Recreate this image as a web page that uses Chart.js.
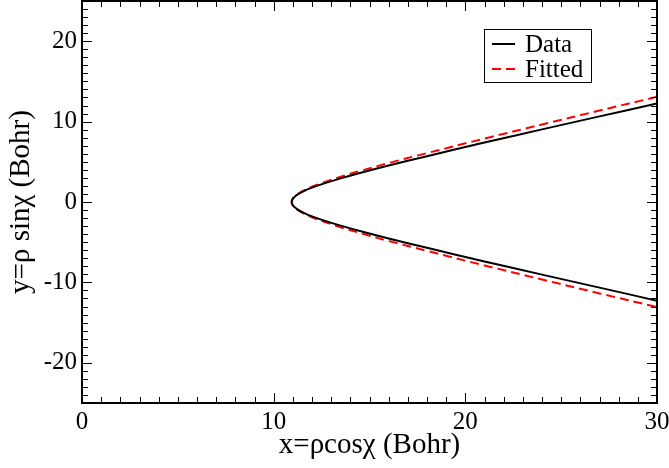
<!DOCTYPE html>
<html>
<head>
<meta charset="utf-8">
<script src="https://cdn.jsdelivr.net/npm/chart.js@4.4.1/dist/chart.umd.min.js"></script>
<style>
  html, body { margin: 0; padding: 0; background: #fff; }
  #wrap { width: 669px; height: 468px; }
</style>
</head>
<body>
<div id="wrap"><canvas id="curveChart" width="669" height="468"></canvas></div>
<script>
// Points along the curve, upper branch from x=30 down to the vertex, then the lower branch back out
const xPoints = [30, 27, 24, 21, 18, 16, 14.5, 13.5, 12.6, 12.0, 11.6, 11.3, 11.1, 11.0, 10.96, 10.94,
  10.96, 11.0, 11.1, 11.3, 11.6, 12.0, 12.6, 13.5, 14.5, 16, 18, 21, 24, 27, 30];
const dataY = [12.25, 10.65, 9.03, 7.39, 5.70, 4.54, 3.61, 2.94, 2.28, 1.78, 1.38, 1.00, 0.66, 0.40, 0.23, 0,
  -0.23, -0.40, -0.66, -1.00, -1.38, -1.78, -2.28, -2.94, -3.61, -4.54, -5.70, -7.39, -9.03, -10.65, -12.27];
const fittedY = [13.08, 11.37, 9.64, 7.89, 6.08, 4.85, 3.85, 3.14, 2.43, 1.90, 1.47, 1.07, 0.70, 0.43, 0.25, 0,
  -0.25, -0.43, -0.70, -1.07, -1.47, -1.90, -2.43, -3.14, -3.85, -4.85, -6.08, -7.89, -9.64, -11.37, -13.07];

const xTickLabels = [0, 10, 20, 30];
const yTickLabels = [-20, -10, 0, 10, 20];

const serif = "'Liberation Serif', 'DejaVu Serif', serif";

function toPoints(xs, ys) {
  return xs.map((x, i) => ({ x: x, y: ys[i] }));
}

// Frame, inward ticks on all four sides, and the boxed legend
const framePlugin = {
  id: "frame",
  afterDatasetsDraw(chart) {
    const ctx = chart.ctx;
    const a = chart.chartArea;
    const xs = chart.scales.x;
    const ys = chart.scales.y;
    ctx.save();
    ctx.strokeStyle = "#000";
    ctx.lineWidth = 1;
    for (let v = xs.min; v <= xs.max; v++) {
      const px = Math.round(xs.getPixelForValue(v)) + 0.5;
      const len = v % 10 === 0 ? 10 : 6;
      ctx.beginPath();
      ctx.moveTo(px, a.bottom); ctx.lineTo(px, a.bottom - len);
      ctx.moveTo(px, a.top); ctx.lineTo(px, a.top + len);
      ctx.stroke();
    }
    for (let v = ys.min; v <= ys.max; v++) {
      const py = Math.round(ys.getPixelForValue(v)) + 0.5;
      const len = v % 10 === 0 ? 10 : 6;
      ctx.beginPath();
      ctx.moveTo(a.left, py); ctx.lineTo(a.left + len, py);
      ctx.moveTo(a.right, py); ctx.lineTo(a.right - len, py);
      ctx.stroke();
    }
    ctx.lineWidth = 2;
    ctx.strokeRect(a.left, a.top, a.right - a.left, a.bottom - a.top);

    // legend
    const bx = 484, by = 29, bw = 107, bh = 53;
    ctx.fillStyle = "#fff";
    ctx.fillRect(bx, by, bw, bh);
    ctx.lineWidth = 1;
    ctx.strokeStyle = "#000";
    ctx.strokeRect(bx + 0.5, by + 0.5, bw, bh);
    ctx.font = "25px " + serif;
    ctx.textBaseline = "middle";
    chart.data.datasets.forEach((ds, i) => {
      const ly = by + 15 + i * 25;
      ctx.strokeStyle = ds.borderColor;
      ctx.lineWidth = 2;
      ctx.setLineDash(ds.borderDash || []);
      ctx.beginPath();
      ctx.moveTo(bx + 8, ly); ctx.lineTo(bx + 31, ly);
      ctx.stroke();
      ctx.setLineDash([]);
      ctx.fillStyle = "#000";
      ctx.fillText(ds.label, bx + 41, ly + 1);
    });
    ctx.restore();
  }
};

new Chart(document.getElementById("curveChart").getContext("2d"), {
  type: "scatter",
  data: {
    datasets: [
      {
        label: "Data",
        data: toPoints(xPoints, dataY),
        showLine: true,
        borderColor: "#000000",
        borderWidth: 2,
        pointRadius: 0,
        tension: 0.4,
      },
      {
        label: "Fitted",
        data: toPoints(xPoints, fittedY),
        showLine: true,
        borderColor: "#ff0000",
        borderWidth: 2,
        borderDash: [9, 5],
        pointRadius: 0,
        tension: 0.4,
      },
    ],
  },
  options: {
    responsive: false,
    animation: false,
    layout: { padding: { top: 1, right: 12, left: 0, bottom: 0 } },
    plugins: {
      legend: { display: false },
      tooltip: { enabled: false },
    },
    scales: {
      x: {
        type: "linear",
        min: 0,
        max: 30,
        afterBuildTicks: (s) => { s.ticks = xTickLabels.map((v) => ({ value: v })); },
        afterFit: (s) => { s.height = 65; s.paddingLeft = 0; s.paddingRight = 0; },
        grid: { display: false, drawTicks: false },
        border: { display: false },
        ticks: { color: "#000", padding: 4, maxRotation: 0, font: { family: serif, size: 25 } },
        title: {
          display: true,
          text: "x=ρcosχ (Bohr)",
          color: "#000",
          padding: { top: 0, bottom: 5 },
          font: { family: serif, size: 29 },
        },
      },
      y: {
        type: "linear",
        min: -25,
        max: 25,
        afterBuildTicks: (s) => { s.ticks = yTickLabels.map((v) => ({ value: v })); },
        afterFit: (s) => { s.width = 82; s.paddingTop = 0; s.paddingBottom = 0; },
        grid: { display: false, drawTicks: false },
        border: { display: false },
        ticks: { color: "#000", padding: 5, font: { family: serif, size: 25 } },
        title: {
          display: true,
          text: "y=ρ sinχ (Bohr)",
          color: "#000",
          padding: { top: 4, bottom: 0 },
          font: { family: serif, size: 29 },
        },
      },
    },
  },
  plugins: [framePlugin],
});
</script>
</body>
</html>
